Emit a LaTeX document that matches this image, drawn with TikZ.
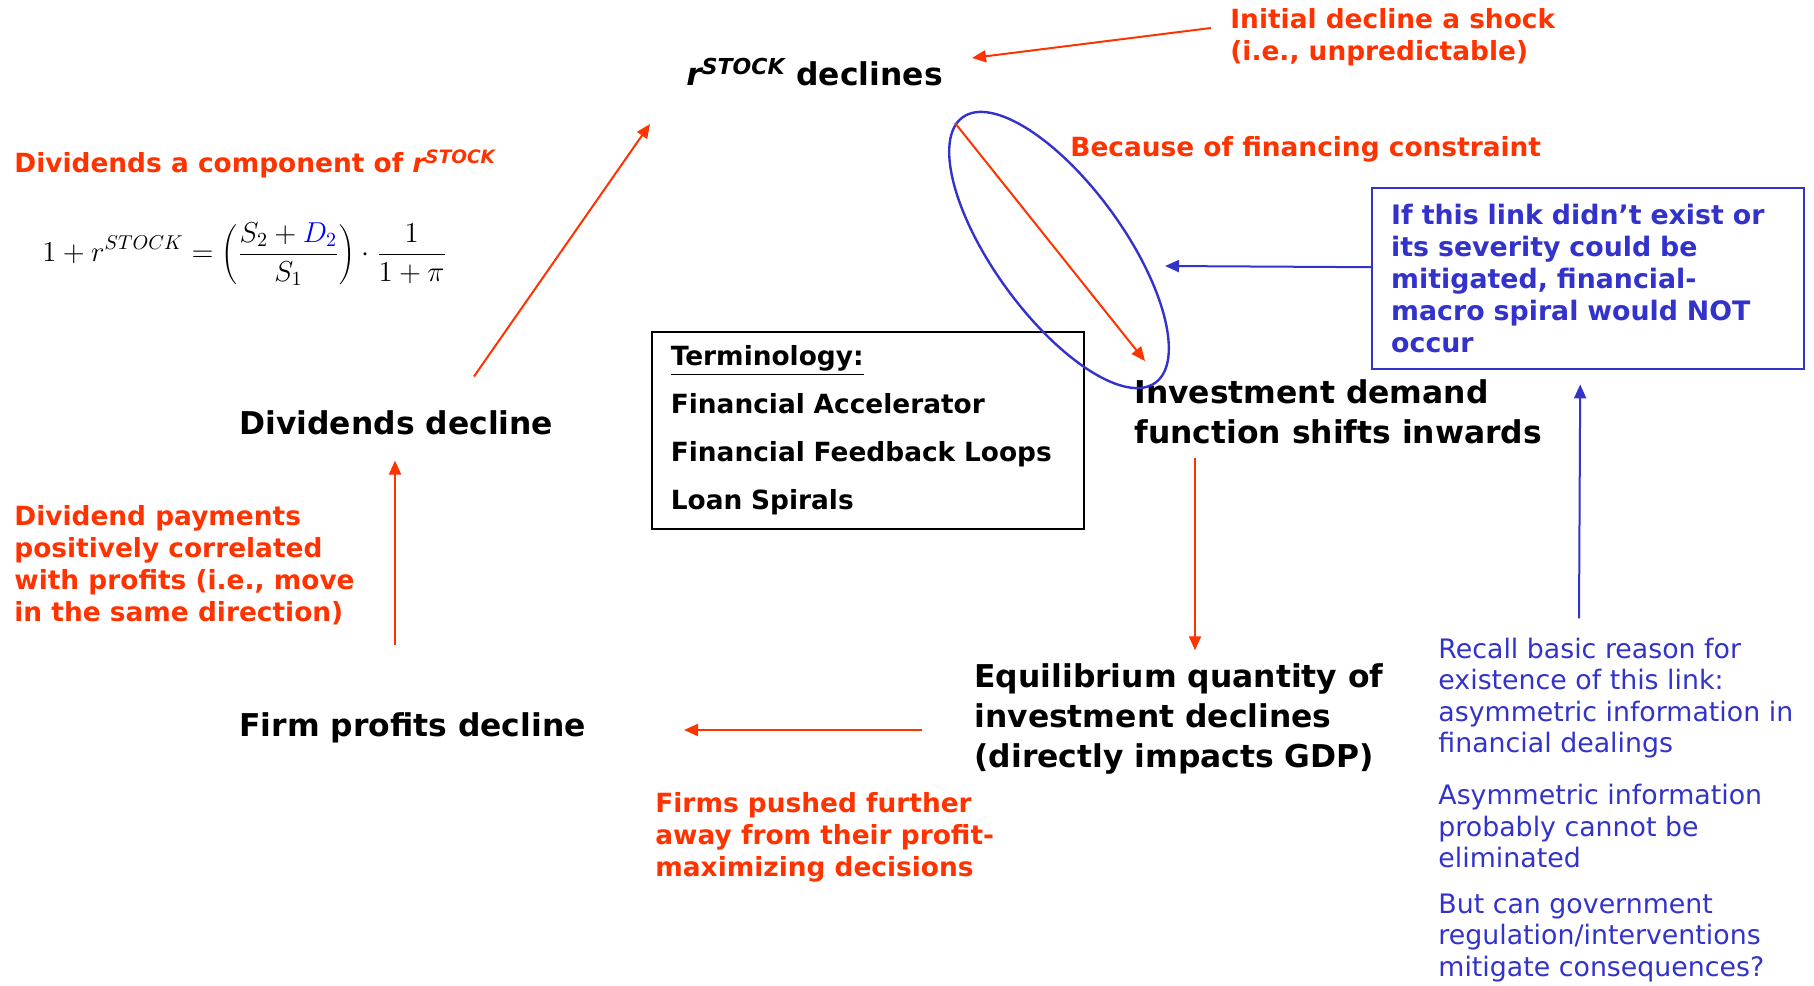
\documentclass[tikz,border=0pt]{standalone}
\usepackage{fontspec}
\setmainfont{DejaVu Sans}
\usetikzlibrary{arrows.meta,shapes.geometric}
\definecolor{shockred}{RGB}{255,51,0}
\definecolor{linkblue}{RGB}{51,51,204}

\begin{document}
\begin{tikzpicture}[x=0.5pt,y=-0.5pt]
\tikzstyle{every node}=[inner sep=0pt]
\tikzstyle{stage}=[font=\fontsize{15.7}{20}\selectfont\bfseries,align=left,anchor=west]
\tikzstyle{note}=[text=shockred,font=\fontsize{13.2}{16}\selectfont\bfseries,align=left,anchor=west]
\tikzstyle{hint}=[text=linkblue,font=\fontsize{13.4}{15.75}\selectfont,align=left,anchor=west]
\tikzstyle{redarrow}=[draw=shockred,line width=1pt,-{Triangle[length=7pt,width=6pt]}]
\tikzstyle{bluearrow}=[draw=linkblue,line width=1pt,-{Triangle[length=7pt,width=6pt]}]

\useasboundingbox[fill=white] (0,0) rectangle (1814,985);

% the spiral
\node (rs) [stage] at (686,72) {{\itshape r}\textsuperscript{\itshape STOCK} declines};
\node (invest) [stage] at (1134,412) {Investment demand\\function shifts inwards};
\node (equil) [stage] at (974,719) {Equilibrium quantity of\\investment declines\\(directly impacts GDP)};
\node (firm) [stage] at (239,728) {Firm profits decline};
\node (divdec) [stage] at (239,423) {Dividends decline};

% red notes
\node (shock) [note] at (1230,37) {Initial decline a shock\\(i.e., unpredictable)};
\node (because) [note] at (1070,149) {Because of financing constraint};
\node (divcomp) [note] at (14,164) {Dividends a component of {\itshape r}\textsuperscript{\itshape STOCK}};
\node (divpay) [note] at (14,565) {Dividend payments\\positively correlated\\with profits (i.e., move\\in the same direction)};
\node (pushed) [note] at (655,837) {Firms pushed further\\away from their profit-\\maximizing decisions};

\node (formula) [anchor=west,font=\fontsize{13.8}{17}\selectfont] at (42,254)
  {$\displaystyle 1+r^{STOCK}=\left(\frac{S_2+{\color{blue}D_2}}{S_1}\right)\cdot\frac{1}{1+\pi}$};

% terminology
\node (term) [draw,line width=0.8pt,anchor=north west,minimum width=216pt,minimum height=98.5pt,
  text width=197pt,inner xsep=9.5pt,align=left,font=\fontsize{13.2}{24}\selectfont\bfseries] at (651,331)
  {\underline{Terminology:}\\Financial Accelerator\\Financial Feedback Loops\\Loan Spirals};

% blue side
\node (ring) [draw=linkblue,line width=1.2pt,ellipse,minimum width=328pt/2,minimum height=130pt/2,rotate=-54] at (1059,250) {};
\node (bluebox) [draw=linkblue,line width=1.2pt,anchor=north west,minimum width=216pt,minimum height=90.5pt,
  text width=197pt,inner xsep=9.5pt,align=left,text=linkblue,font=\fontsize{13.4}{16}\selectfont\bfseries] at (1371,187)
  {If this link didn’t exist or\\its severity could be\\mitigated, financial-\\macro spiral would NOT\\occur};
\node (recall) [hint] at (1438,698) {Recall basic reason for\\existence of this link:\\asymmetric information in\\financial dealings};
\node (asym) [hint] at (1438,826) {Asymmetric information\\probably cannot be\\eliminated};
\node (govt) [hint] at (1438,938) {But can government\\regulation/interventions\\mitigate consequences?};

% connectors
\draw[redarrow] ([shift={(-19,-9)}]shock.west) -- ([shift={(286,-14)}]rs.west);
\draw[redarrow] ([shift={(235,-34)}]divdec.north west) -- ([shift={(-36,52)}]rs.west);
\draw[redarrow] ([shift={(156,-67)}]firm.north west) -- ([shift={(156,25)}]divdec.south west);
\draw[redarrow] ([shift={(-52,11)}]equil.west) -- ([shift={(445,2)}]firm.west);
\draw[redarrow] ([shift={(61,13)}]invest.south west) -- ([shift={(221,-13)}]equil.north west);
\draw[redarrow] ([shift={(-104,-127)}]ring.center) -- ([shift={(86,111)}]ring.center);
\draw[bluearrow] ([shift={(0,-11.5)}]bluebox.west) -- ([shift={(106,16)}]ring.center);
\draw[bluearrow] ([shift={(141,-19)}]recall.north west) -- ([shift={(-8,14)}]bluebox.south);

\end{tikzpicture}
\end{document}
